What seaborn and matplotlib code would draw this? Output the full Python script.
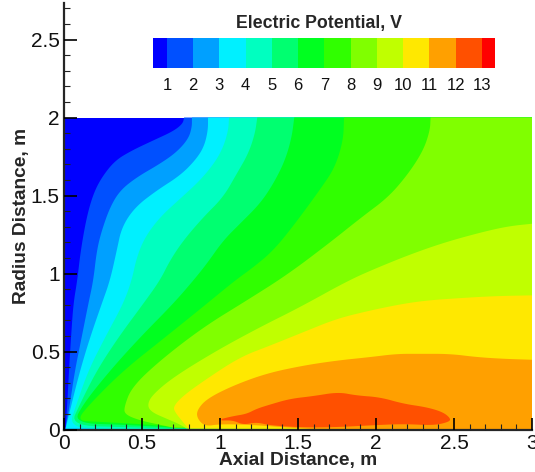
import matplotlib
matplotlib.use("Agg")
import matplotlib.pyplot as plt
from matplotlib.colors import BoundaryNorm, ListedColormap
from matplotlib.colorbar import ColorbarBase
from matplotlib.ticker import MultipleLocator
import seaborn as sns

# Band colours, lowest potential first
band_colors = ["#0000ff", "#0050ff", "#00a0ff", "#00f0ff", "#00ffc0", "#00ff70", "#00ff20",
               "#30ff00", "#80ff00", "#c0ff00", "#ffe800", "#ffa000", "#ff5000", "#ff0000"]
legend_levels = [0.47, 1, 2, 3, 4, 5, 6, 7, 8, 9, 10, 11, 12, 13, 13.5]
legend_ticks = [1, 2, 3, 4, 5, 6, 7, 8, 9, 10, 11, 12, 13]

x_ticks = [0, 0.5, 1, 1.5, 2, 2.5, 3]
x_tick_labels = ["0", "0.5", "1", "1.5", "2", "2.5", "3"]
r_ticks = [0, 0.5, 1, 1.5, 2, 2.5]
r_tick_labels = ["0", "0.5", "1", "1.5", "2", "2.5"]

# Contour lines (axial m, radius m)
v1_x = [0.01, 0.021, 0.032, 0.045, 0.06, 0.085, 0.107, 0.145, 0.188, 0.242, 0.327, 0.434, 0.572, 0.70, 0.761, 0.77]
v1_r = [0.005, 0.165, 0.378, 0.59, 0.806, 0.955, 1.147, 1.361, 1.511, 1.617, 1.724, 1.788, 1.853, 1.912, 1.96, 2.0]

v2_x = [0.01, 0.038, 0.07, 0.113, 0.156, 0.188, 0.21, 0.242, 0.295, 0.359, 0.466, 0.615, 0.722, 0.797, 0.82, 0.82]
v2_r = [0.005, 0.165, 0.378, 0.59, 0.806, 0.955, 1.147, 1.276, 1.425, 1.532, 1.617, 1.703, 1.778, 1.863, 1.938, 2.0]

v3_x = [0.01, 0.049, 0.103, 0.167, 0.242, 0.295, 0.338, 0.37, 0.455, 0.594, 0.744, 0.84, 0.897, 0.923, 0.923]
v3_r = [0.005, 0.165, 0.378, 0.59, 0.806, 0.955, 1.147, 1.297, 1.425, 1.532, 1.628, 1.724, 1.81, 1.917, 2.0]

v4_x = [0.3, 0.03, 0.081, 0.156, 0.263, 0.38, 0.434, 0.466, 0.519, 0.615, 0.744, 0.872, 0.968, 1.021, 1.053, 1.058]
v4_r = [0.004, 0.012, 0.165, 0.378, 0.59, 0.806, 0.955, 1.104, 1.233, 1.361, 1.479, 1.596, 1.713, 1.81, 1.917, 2.0]

v5_x = [0.7, 0.4, 0.04, 0.103, 0.21, 0.348, 0.508, 0.615, 0.679, 0.765, 0.893, 1.021, 1.107, 1.181, 1.224, 1.239]
v5_r = [0.005, 0.015, 0.025, 0.165, 0.378, 0.59, 0.806, 0.955, 1.083, 1.212, 1.361, 1.489, 1.639, 1.767, 1.895, 2.0]

v6_x = [0.72, 0.4, 0.06, 0.124, 0.295, 0.487, 0.70, 0.829, 0.915, 1.021, 1.128, 1.256, 1.342, 1.417, 1.46, 1.476]
v6_r = [0.01, 0.03, 0.04, 0.165, 0.378, 0.59, 0.806, 0.955, 1.062, 1.212, 1.319, 1.447, 1.575, 1.724, 1.874, 2.0]

v7_x = [0.74, 0.5, 0.2, 0.081, 0.167, 0.38, 0.647, 0.915, 1.096, 1.214, 1.342, 1.481, 1.652, 1.737, 1.79, 1.795]
v7_r = [0.012, 0.035, 0.05, 0.058, 0.165, 0.378, 0.59, 0.806, 0.955, 1.04, 1.147, 1.319, 1.553, 1.681, 1.853, 2.0]

v8_x = [0.70, 0.635, 0.487, 0.391, 0.385, 0.434, 0.615, 0.893, 1.171, 1.428, 1.694, 1.908, 2.079, 2.207, 2.303, 2.346, 2.35]
v8_r = [0.012, 0.026, 0.058, 0.096, 0.143, 0.271, 0.442, 0.656, 0.827, 0.99, 1.19, 1.361, 1.489, 1.639, 1.788, 1.917, 2.0]

v9_x = [0.786, 0.744, 0.658, 0.562, 0.534, 0.562, 0.70, 0.979, 1.256, 1.513, 1.822, 2.015, 2.229, 2.442, 2.678, 2.848, 3.0]
v9_r = [0.006, 0.032, 0.069, 0.111, 0.154, 0.218, 0.335, 0.506, 0.656, 0.784, 0.955, 1.04, 1.126, 1.2, 1.265, 1.303, 1.319]

v10_x = [0.797, 0.754, 0.712, 0.70, 0.765, 0.915, 1.128, 1.321, 1.534, 1.747, 1.962, 2.173, 2.325, 2.5, 2.75, 3.0]
v10_r = [0.006, 0.058, 0.111, 0.147, 0.218, 0.325, 0.464, 0.538, 0.624, 0.71, 0.763, 0.806, 0.827, 0.84, 0.855, 0.86]

v11_x = [1.6, 1.4, 1.2, 1.0, 0.904, 0.855, 0.851, 0.915, 1.085, 1.299, 1.534, 1.748, 1.962, 2.133, 2.282, 2.474, 2.645, 2.816, 3.0]
v11_r = [0.002, 0.015, 0.03, 0.035, 0.02, 0.069, 0.122, 0.197, 0.282, 0.36, 0.41, 0.442, 0.464, 0.485, 0.485, 0.485, 0.464, 0.453, 0.447]

v12_x = [1.01, 1.086, 1.171, 1.235, 1.321, 1.449, 1.598, 1.758, 1.875, 2.026, 2.175, 2.325, 2.431, 2.481, 2.463,
         2.368, 2.175, 1.955, 1.748, 1.534, 1.321, 1.235, 1.148, 1.086, 1.01]
v12_r = [0.068, 0.086, 0.1, 0.133, 0.16, 0.197, 0.214, 0.24, 0.218, 0.207, 0.165, 0.143, 0.111, 0.068, 0.047,
         0.026, 0.036, 0.026, 0.015, 0.013, 0.026, 0.047, 0.03, 0.058, 0.058]

contours = [(v1_x, v1_r), (v2_x, v2_r), (v3_x, v3_r), (v4_x, v4_r), (v5_x, v5_r), (v6_x, v6_r),
            (v7_x, v7_r), (v8_x, v8_r), (v9_x, v9_r), (v10_x, v10_r), (v11_x, v11_r), (v12_x, v12_r)]


def round_corners(xs, rs, passes=3):
    # corner cutting so the traced lines do not look polygonal, ends stay put
    for _ in range(passes):
        nx, nr = [xs[0]], [rs[0]]
        for j in range(len(xs) - 1):
            nx += [0.75 * xs[j] + 0.25 * xs[j + 1], 0.25 * xs[j] + 0.75 * xs[j + 1]]
            nr += [0.75 * rs[j] + 0.25 * rs[j + 1], 0.25 * rs[j] + 0.75 * rs[j + 1]]
        nx.append(xs[-1])
        nr.append(rs[-1])
        xs, rs = nx, nr
    return xs, rs


sns.set_style("ticks")
plt.rcParams["font.family"] = ["Liberation Sans", "DejaVu Sans"]
palette = sns.color_palette(band_colors)

fig = plt.figure(figsize=(5.35, 4.72), dpi=100)
ax = fig.add_axes([64 / 535, 1 - 429.5 / 472, 468 / 535, 426.5 / 472])

# paint bands from the lowest up, each one covers everything above its contour
ax.fill([0, 3, 3, 0], [0, 0, 2, 2], color=palette[0], lw=0)
for i, (cx, cr) in enumerate(contours):
    xs, rs = round_corners(cx, cr)
    if rs[-1] == 2.0:
        xs.append(3)
        rs.append(2)
    if i < 11:
        xs.append(3)
        rs.append(0)
    ax.fill(xs, rs, color=palette[i + 1], lw=0)

ax.set_xlim(0, 3)
ax.set_ylim(0, 426.5 / 156)
ax.set_xticks(x_ticks, x_tick_labels)
ax.set_yticks(r_ticks, r_tick_labels)
ax.xaxis.set_minor_locator(MultipleLocator(0.1))
ax.yaxis.set_minor_locator(MultipleLocator(0.1))
ax.tick_params(which="major", direction="in", length=9, width=1.2, labelsize=15, pad=3, color="black", labelcolor="#111111")
ax.tick_params(which="minor", direction="in", length=4.5, width=0.8, color="#222222")
ax.set_axisbelow(False)
sns.despine(ax=ax)
ax.spines["left"].set_linewidth(1.6)
ax.spines["bottom"].set_linewidth(1.6)

fig.text(298 / 535, 1 - 460.5 / 472, "Axial Distance, m", fontsize=13.8, fontweight="bold", ha="center", va="center")
fig.text(22 / 535, 1 - 216 / 472, "Radius Distance, m", fontsize=13.8, fontweight="bold", rotation=90, ha="center", va="center")

# legend bar
cax = fig.add_axes([153 / 535, 1 - 68 / 472, 342 / 535, 30 / 472])
cb = ColorbarBase(cax, cmap=ListedColormap(palette), norm=BoundaryNorm(legend_levels, len(band_colors)),
                  orientation="horizontal", ticks=legend_ticks, spacing="proportional")
cb.outline.set_visible(False)
cb.ax.tick_params(length=0, labelsize=12, pad=7, labelcolor="#111111")
cb.ax.minorticks_off()
cax.set_title("Electric Potential, V", fontsize=12.8, fontweight="bold", pad=7, x=0.485)

fig.savefig("out.png", dpi=100)
